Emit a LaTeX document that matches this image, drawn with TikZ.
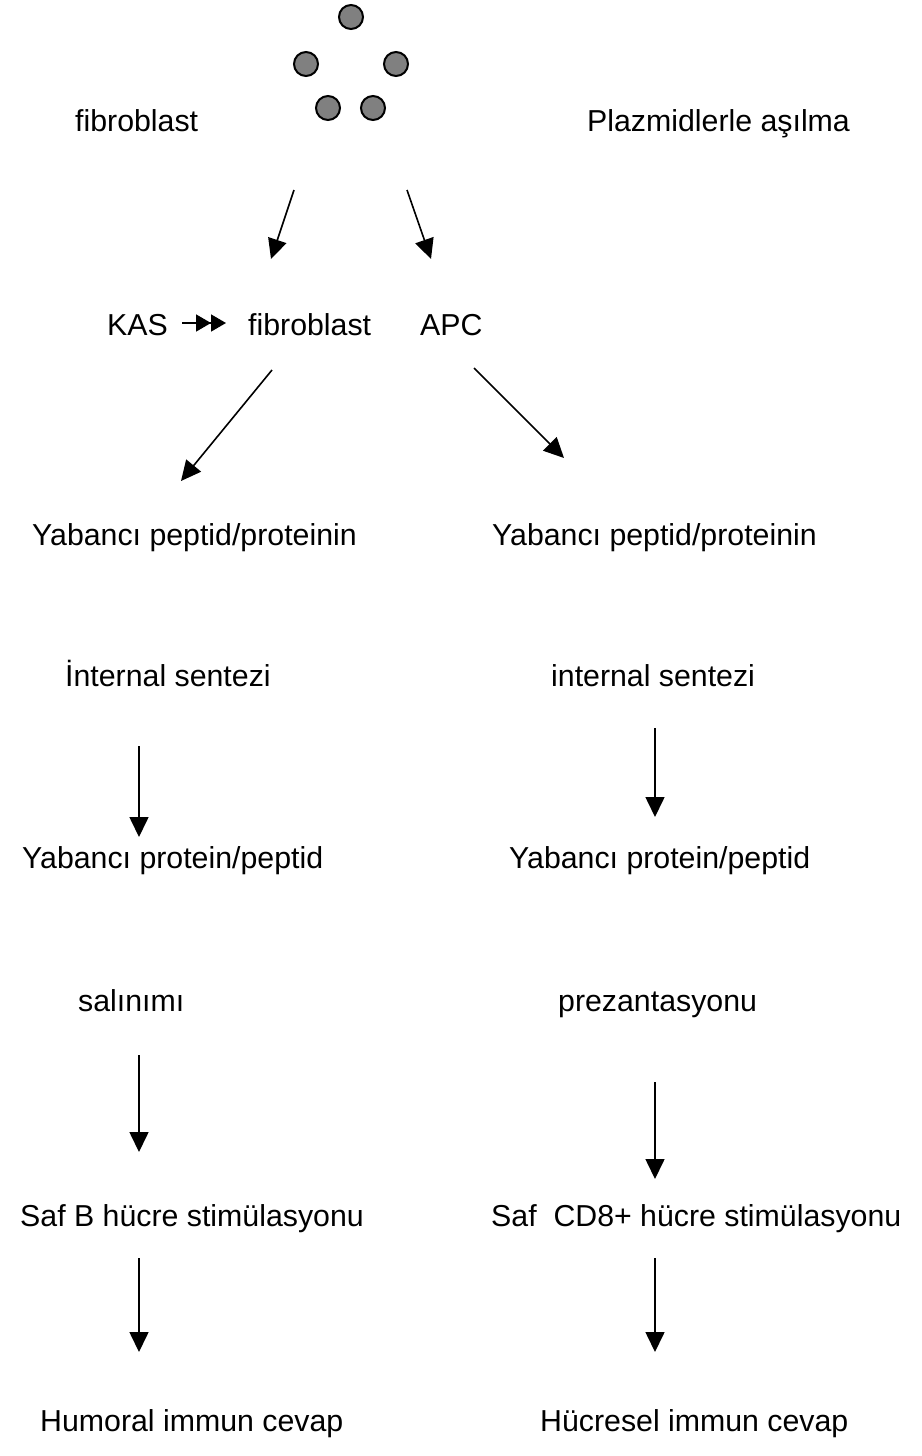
\documentclass[tikz,border=0pt]{standalone}
\usepackage{fontspec}
\setmainfont{Liberation Sans}
\usetikzlibrary{arrows.meta}
\begin{document}
\begin{tikzpicture}[x=1pt,y=-1pt,
  lbl/.style={anchor=base west,inner sep=0pt,font=\fontsize{30.3}{36}\selectfont},
  cell/.style={circle,draw=black,line width=2pt,fill=black!50,minimum size=24pt,inner sep=0pt},
  arr/.style={line width=1.6pt,-{Triangle[length=20pt,width=19pt]}},
  darr/.style={line width=1.6pt,-{Triangle[length=15pt,width=17pt]Triangle[length=15pt,width=17pt]}}]
\useasboundingbox (0,0) rectangle (921,1456);
% cells
\node[cell] (c1) at (351,17) {};
\node[cell] (c2) at (306,64) {};
\node[cell] (c3) at (396,64) {};
\node[cell] (c4) at (328,108) {};
\node[cell] (c5) at (373,108) {};
% texts
\node[lbl] (fib1) at (75,131) {fibroblast};
\node[lbl] (plaz) at (587,131) {Plazmidlerle aşılma};
\node[lbl] (kas) at (107,335) {KAS};
\node[lbl] (fib2) at (248,335) {fibroblast};
\node[lbl] (apc) at (420,335) {APC};
\node[lbl] (yp1) at (32,545) {Yabancı peptid/proteinin};
\node[lbl] (yp2) at (492,545) {Yabancı peptid/proteinin};
\node[lbl] (is1) at (65,686) {İnternal sentezi};
\node[lbl] (is2) at (551,686) {internal sentezi};
\node[lbl] (pp1) at (22,868) {Yabancı protein/peptid};
\node[lbl] (pp2) at (509,868) {Yabancı protein/peptid};
\node[lbl] (sal) at (78,1011) {salınımı};
\node[lbl] (prez) at (558,1011) {prezantasyonu};
\node[lbl] (saf1) at (20,1226) {Saf B hücre stimülasyonu};
\node[lbl] (saf2) at (491,1226) {Saf\ \ CD8+ hücre stimülasyonu};
\node[lbl] (hum) at (40,1431) {Humoral immun cevap};
\node[lbl] (huc) at (540,1431) {Hücresel immun cevap};
% arrow end points
\coordinate (a1s) at (294,190); \coordinate (a1e) at (271,259);
\coordinate (a2s) at (407,190); \coordinate (a2e) at (431,259);
\coordinate (ks) at (182,323); \coordinate (ke) at (226,323);
\coordinate (d1s) at (272,370); \coordinate (d1e) at (181,481);
\coordinate (d2s) at (474,368); \coordinate (d2e) at (564,458);
\coordinate (v1s) at (139,746); \coordinate (v1e) at (139,837);
\coordinate (v2s) at (655,728); \coordinate (v2e) at (655,817);
\coordinate (v3s) at (139,1055); \coordinate (v3e) at (139,1152);
\coordinate (v4s) at (655,1082); \coordinate (v4e) at (655,1179);
\coordinate (v5s) at (139,1258); \coordinate (v5e) at (139,1352);
\coordinate (v6s) at (655,1258); \coordinate (v6e) at (655,1352);
% arrows
\draw[arr] (a1s) -- (a1e);
\draw[arr] (a2s) -- (a2e);
\draw[darr] (ks) -- (ke);
\draw[arr] (d1s) -- (d1e);
\draw[arr] (d2s) -- (d2e);
\draw[arr] (v1s) -- (v1e);
\draw[arr] (v2s) -- (v2e);
\draw[arr] (v3s) -- (v3e);
\draw[arr] (v4s) -- (v4e);
\draw[arr] (v5s) -- (v5e);
\draw[arr] (v6s) -- (v6e);
\end{tikzpicture}
\end{document}
